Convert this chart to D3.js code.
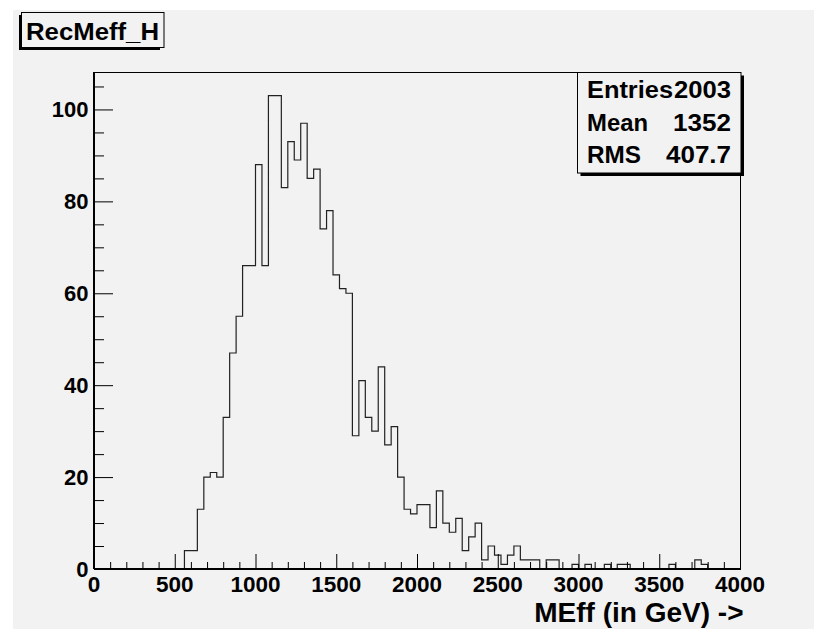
<!DOCTYPE html>
<html>
<head>
<meta charset="utf-8">
<title>RecMeff_H</title>
<script src="https://d3js.org/d3.v7.min.js"></script>
<style>
  body { margin: 0; background: #fff; }
  svg { display: block; }
  text { font-family: "Liberation Sans", Arial, Helvetica, sans-serif; font-weight: bold; fill: #000; }
</style>
</head>
<body>
<script>
// histogram RecMeff_H : 100 bins from 0 to 4000 GeV (40 GeV wide)
var histName = "RecMeff_H";
var xTitle = "MEff (in GeV) ->";
var nBins = 100, xMin = 0, xMax = 4000;
// non-empty bins : bin index -> entries
var binIndex = [14, 15, 16, 17, 18, 19, 20, 21, 22, 23, 24, 25, 26, 27, 28, 29, 30, 31, 32, 33,
                34, 35, 36, 37, 38, 39, 40, 41, 42, 43, 44, 45, 46, 47, 48, 49, 50, 51, 52, 53,
                54, 55, 56, 57, 58, 59, 60, 61, 62, 63, 64, 65, 66, 67, 68, 70, 71, 74, 76, 79,
                81, 82, 89, 93, 94];
var binCount = [4, 4, 13, 20, 21, 20, 33, 47, 55, 66, 66, 88, 66, 103, 103, 83, 93, 89, 97, 85,
                87, 74, 78, 64, 61, 60, 29, 41, 33, 30, 44, 27, 31, 20, 13, 12, 14, 14, 9, 17,
                10, 8, 11, 4, 7, 10, 2, 5, 3, 1, 3, 5, 2, 2, 2, 2, 2, 1, 1, 1,
                1, 1, 1, 2, 1];
var statLabels = ["Entries", "Mean", "RMS"];
var statValues = ["2003", "1352", "407.7"];
var xTicks = [0, 500, 1000, 1500, 2000, 2500, 3000, 3500, 4000];
var yTicks = [0, 20, 40, 60, 80, 100];

var W = 814, H = 629;
var padL = 94, padR = 740, padT = 72, padB = 569;

var counts = new Array(nBins).fill(0);
binIndex.forEach(function(b, i) { counts[b] = binCount[i]; });
var binW = (xMax - xMin) / nBins;

var svg = d3.select("body").append("svg").attr("width", W).attr("height", H);

// canvas
svg.append("rect").attr("x", 13).attr("y", 10).attr("width", W - 13).attr("height", H - 10)
  .attr("fill", "#f2f2f2");

var x = d3.scaleLinear().domain([xMin, xMax]).range([padL, padR]);
var y = d3.scaleLinear().domain([0, 1.05 * d3.max(counts)]).range([padB, padT]);

// frame
svg.append("rect").attr("x", padL + 0.5).attr("y", padT + 0.5).attr("width", padR - padL).attr("height", padB - padT)
  .attr("fill", "none").attr("stroke", "#000").attr("stroke-width", 1);

// histogram outline
var path = d3.path();
path.moveTo(x(xMin), y(0));
counts.forEach(function(c, i) {
  path.lineTo(x(xMin + i * binW), y(c));
  path.lineTo(x(xMin + (i + 1) * binW), y(c));
});
path.lineTo(x(xMax), y(0));
svg.append("path").attr("d", path.toString()).attr("fill", "none")
  .attr("stroke", "#222").attr("stroke-width", 1.2);

// x axis
var xAxis = d3.axisBottom(x).tickValues(d3.range(0, 4001, 100)).tickSizeOuter(0).tickFormat("");
var gx = svg.append("g").attr("transform", "translate(0," + padB + ")").call(xAxis);
gx.select(".domain").remove();
gx.selectAll(".tick line")
  .attr("y2", function(d) { return d % 500 === 0 ? -15 : -7; })
  .attr("stroke", "#000");
svg.append("line").attr("x1", padL).attr("x2", padR + 1).attr("y1", padB).attr("y2", padB)
  .attr("stroke", "#000").attr("stroke-width", 2);
svg.selectAll(".xlab").data(xTicks).enter().append("text")
  .attr("x", function(d) { return x(d); })
  .attr("y", 591.5)
  .attr("text-anchor", "middle")
  .style("font-size", "22.5px")
  .text(function(d) { return d; });

// y axis
var yAxis = d3.axisLeft(y).tickValues(d3.range(0, 106, 5)).tickSizeOuter(0).tickFormat("");
var gy = svg.append("g").attr("transform", "translate(" + padL + ",0)").call(yAxis);
gy.select(".domain").remove();
gy.selectAll(".tick line")
  .attr("x2", function(d) { return d % 20 === 0 ? 19 : 10; })
  .attr("stroke", "#000");
svg.append("line").attr("x1", padL).attr("x2", padL).attr("y1", padT).attr("y2", padB)
  .attr("stroke", "#000").attr("stroke-width", 2);
svg.selectAll(".ylab").data(yTicks).enter().append("text")
  .attr("x", 88.5)
  .attr("y", function(d) { return y(d) + 7.5; })
  .attr("text-anchor", "end")
  .style("font-size", "22px")
  .text(function(d) { return d; });

// axis title
svg.append("text").attr("x", 743.5).attr("y", 621.5).attr("text-anchor", "end")
  .style("font-size", "28px").text(xTitle);

// title box (shadow left/bottom)
svg.append("rect").attr("x", 19).attr("y", 15).attr("width", 141).attr("height", 35).attr("fill", "#000");
svg.append("rect").attr("x", 21.5).attr("y", 12.5).attr("width", 142.5).attr("height", 35)
  .attr("fill", "#f2f2f2").attr("stroke", "#000").attr("stroke-width", 1);
svg.append("text").attr("x", 26).attr("y", 39.5).style("font-size", "24.5px")
  .attr("textLength", 133).attr("lengthAdjust", "spacingAndGlyphs").text(histName);

// stats box (shadow right/bottom)
var sx = 577.5, sy = 72.5, sw = 163.5, sh = 100.5;
svg.append("rect").attr("x", sx + 3).attr("y", sy + 3).attr("width", sw).attr("height", sh).attr("fill", "#000");
svg.append("rect").attr("x", sx).attr("y", sy).attr("width", sw).attr("height", sh)
  .attr("fill", "#f2f2f2").attr("stroke", "#000").attr("stroke-width", 1);
var rowY = [97.5, 130.5, 163];
var labelLen = [86, 61, 54];
var valueLen = [57, 58, 65];
statLabels.forEach(function(l, i) {
  svg.append("text").attr("x", 587).attr("y", rowY[i]).style("font-size", "23px")
    .attr("textLength", labelLen[i]).attr("lengthAdjust", "spacingAndGlyphs").text(l);
  svg.append("text").attr("x", 731 - valueLen[i]).attr("y", rowY[i])
    .style("font-size", "23px")
    .attr("textLength", valueLen[i]).attr("lengthAdjust", "spacingAndGlyphs").text(statValues[i]);
});
</script>
</body>
</html>
